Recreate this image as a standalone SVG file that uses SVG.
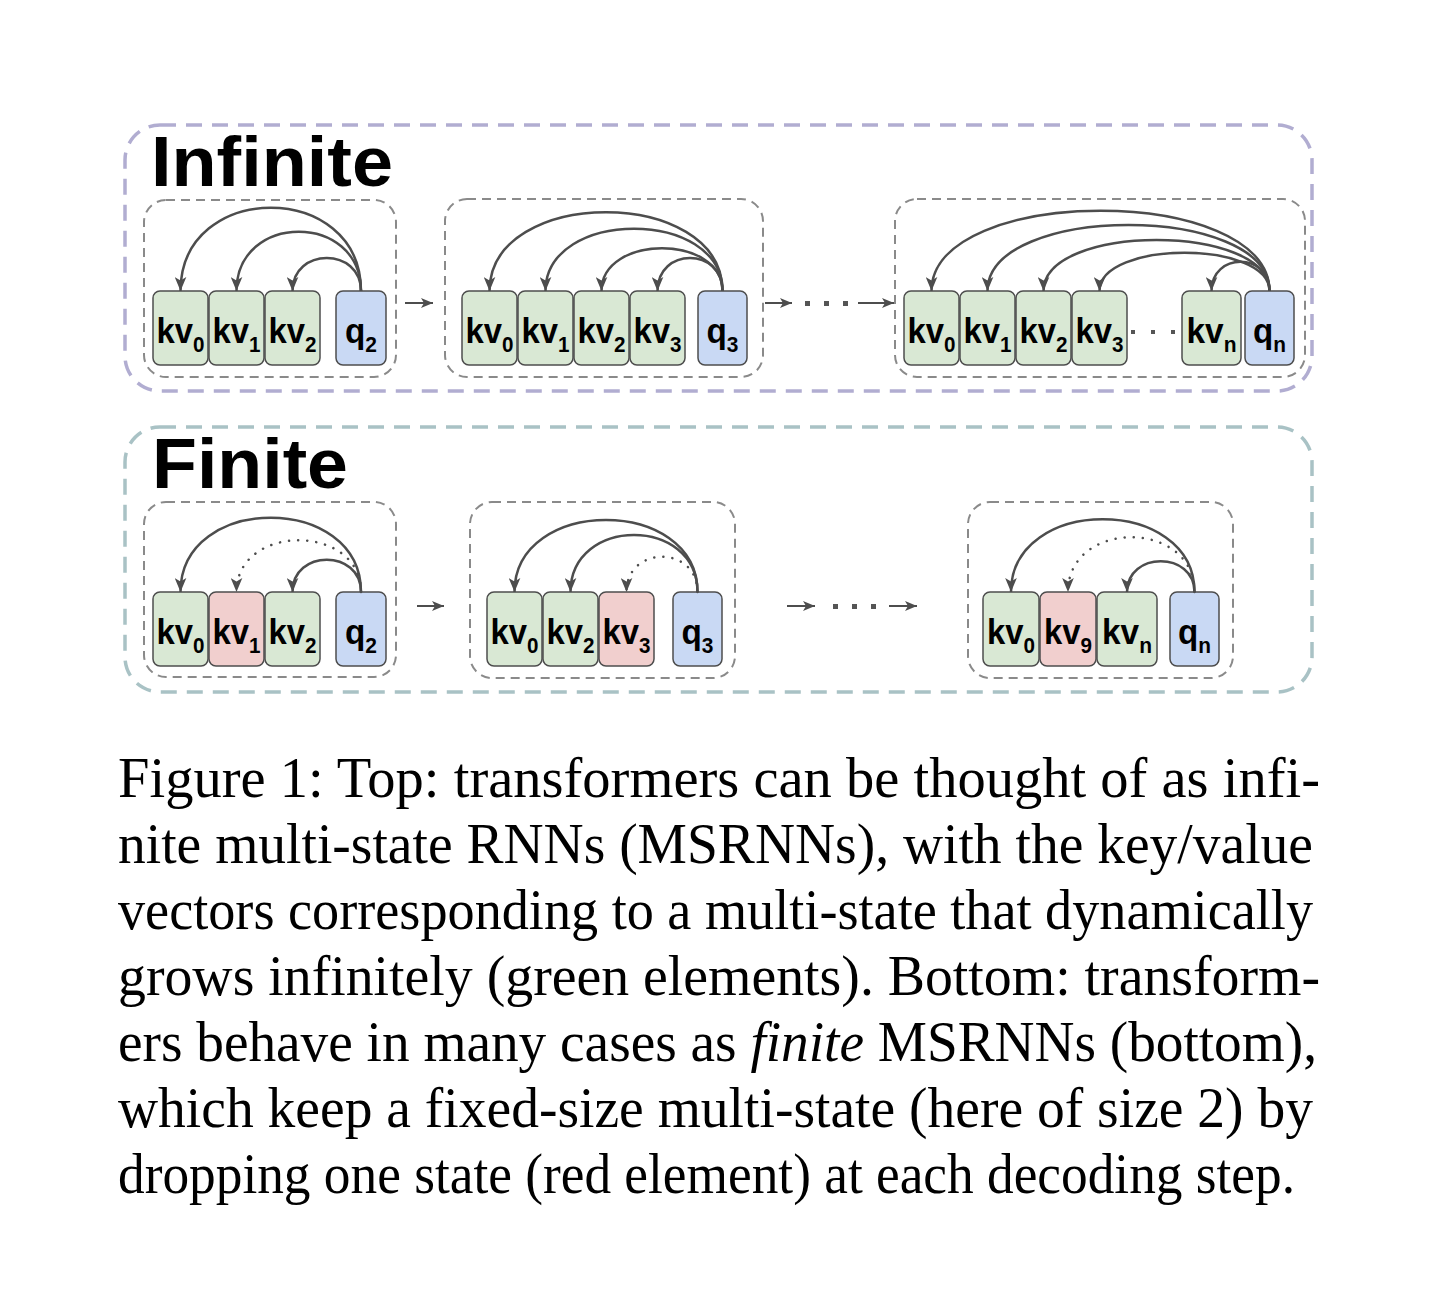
<svg xmlns="http://www.w3.org/2000/svg" width="1456" height="1315" viewBox="0 0 1456 1315">
<style>
.outerI{fill:none;stroke:#b1add1;stroke-width:3.5;stroke-dasharray:16 10}
.outerF{fill:none;stroke:#a9c2c5;stroke-width:3.5;stroke-dasharray:16 10}
.inner{fill:none;stroke:#8a8a8a;stroke-width:2;stroke-dasharray:9 6}
.title{font-family:"Liberation Sans",Arial,sans-serif;font-weight:bold;font-size:71px;fill:#000}
.g{fill:#d9e8d4;stroke:#4d4d4d;stroke-width:1.5}
.r{fill:#f1cfce;stroke:#4d4d4d;stroke-width:1.5}
.b{fill:#c9d9f4;stroke:#4d4d4d;stroke-width:1.5}
.lbl{font-family:"Liberation Sans",Arial,sans-serif;font-weight:bold;font-size:35px;fill:#000;text-anchor:middle}
.sub{font-size:22px}
.arc{fill:none;stroke:#4d4d4d;stroke-width:2.5;marker-end:url(#ah)}
.dot{fill:none;stroke:#4d4d4d;stroke-width:2.5;stroke-dasharray:0.1 9;stroke-linecap:round;marker-end:url(#ah)}
.harr{fill:none;stroke:#4d4d4d;stroke-width:2;marker-end:url(#ah2)}
.sq{fill:#555}
.cap{font-family:"Liberation Serif","Times New Roman",serif;font-size:56px;fill:#000}
</style>
<defs>
<marker id="ah" markerUnits="userSpaceOnUse" viewBox="0 0 12 10" markerWidth="14" markerHeight="12" refX="12" refY="5" orient="auto">
<path d="M0,0 L12,5 L0,10 L3,5 z" fill="#4d4d4d"/>
</marker>
<marker id="ah2" markerUnits="userSpaceOnUse" viewBox="0 0 12 10" markerWidth="13" markerHeight="10" refX="12" refY="5" orient="auto">
<path d="M0,0 L12,5 L0,10 L3,5 z" fill="#4d4d4d"/>
</marker>
</defs>
<rect id="frame-infinite" class="outerI" x="125" y="125" width="1187" height="266" rx="35"/>
<rect id="frame-finite" class="outerF" x="125" y="427" width="1187" height="265" rx="35"/>
<text id="title-infinite" class="title" x="151" y="186" textLength="242" lengthAdjust="spacingAndGlyphs">Infinite</text>
<text id="title-finite" class="title" x="152" y="488" textLength="196" lengthAdjust="spacingAndGlyphs">Finite</text>
<g id="groups">
<rect id="inf-step2" class="inner" x="144" y="200" width="252" height="177" rx="22"/>
<rect id="inf-step3" class="inner" x="445" y="199" width="318" height="178" rx="22"/>
<rect id="inf-stepn" class="inner" x="895" y="199" width="410" height="178" rx="22"/>
<rect id="fin-step2" class="inner" x="144" y="502" width="252" height="175" rx="22"/>
<rect id="fin-step3" class="inner" x="470" y="502" width="265" height="176" rx="22"/>
<rect id="fin-stepn" class="inner" x="968" y="502" width="265" height="176" rx="22"/>
</g>
<g id="i1-kv0"><rect class="g" x="153" y="291" width="55" height="74" rx="7"/><text class="lbl" x="180.5" y="343" textLength="48" lengthAdjust="spacingAndGlyphs">kv<tspan class="sub" dy="9">0</tspan></text></g>
<g id="i1-kv1"><rect class="g" x="209" y="291" width="55" height="74" rx="7"/><text class="lbl" x="236.5" y="343" textLength="48" lengthAdjust="spacingAndGlyphs">kv<tspan class="sub" dy="9">1</tspan></text></g>
<g id="i1-kv2"><rect class="g" x="265" y="291" width="55" height="74" rx="7"/><text class="lbl" x="292.5" y="343" textLength="48" lengthAdjust="spacingAndGlyphs">kv<tspan class="sub" dy="9">2</tspan></text></g>
<g id="i1-q2"><rect class="b" x="336" y="291" width="50" height="74" rx="7"/><text class="lbl" x="361" y="343" textLength="32" lengthAdjust="spacingAndGlyphs">q<tspan class="sub" dy="9">2</tspan></text></g>
<g id="i2-kv0"><rect class="g" x="462" y="291" width="55" height="74" rx="7"/><text class="lbl" x="489.5" y="343" textLength="48" lengthAdjust="spacingAndGlyphs">kv<tspan class="sub" dy="9">0</tspan></text></g>
<g id="i2-kv1"><rect class="g" x="518" y="291" width="55" height="74" rx="7"/><text class="lbl" x="545.5" y="343" textLength="48" lengthAdjust="spacingAndGlyphs">kv<tspan class="sub" dy="9">1</tspan></text></g>
<g id="i2-kv2"><rect class="g" x="574" y="291" width="55" height="74" rx="7"/><text class="lbl" x="601.5" y="343" textLength="48" lengthAdjust="spacingAndGlyphs">kv<tspan class="sub" dy="9">2</tspan></text></g>
<g id="i2-kv3"><rect class="g" x="630" y="291" width="55" height="74" rx="7"/><text class="lbl" x="657.5" y="343" textLength="48" lengthAdjust="spacingAndGlyphs">kv<tspan class="sub" dy="9">3</tspan></text></g>
<g id="i2-q3"><rect class="b" x="698" y="291" width="49" height="74" rx="7"/><text class="lbl" x="722.5" y="343" textLength="32" lengthAdjust="spacingAndGlyphs">q<tspan class="sub" dy="9">3</tspan></text></g>
<g id="i3-kv0"><rect class="g" x="904" y="291" width="55" height="74" rx="7"/><text class="lbl" x="931.5" y="343" textLength="48" lengthAdjust="spacingAndGlyphs">kv<tspan class="sub" dy="9">0</tspan></text></g>
<g id="i3-kv1"><rect class="g" x="960" y="291" width="55" height="74" rx="7"/><text class="lbl" x="987.5" y="343" textLength="48" lengthAdjust="spacingAndGlyphs">kv<tspan class="sub" dy="9">1</tspan></text></g>
<g id="i3-kv2"><rect class="g" x="1016" y="291" width="55" height="74" rx="7"/><text class="lbl" x="1043.5" y="343" textLength="48" lengthAdjust="spacingAndGlyphs">kv<tspan class="sub" dy="9">2</tspan></text></g>
<g id="i3-kv3"><rect class="g" x="1072" y="291" width="55" height="74" rx="7"/><text class="lbl" x="1099.5" y="343" textLength="48" lengthAdjust="spacingAndGlyphs">kv<tspan class="sub" dy="9">3</tspan></text></g>
<g id="i3-ellipsis"><rect class="sq" x="1131" y="330" width="4" height="4"/><rect class="sq" x="1151" y="330" width="4" height="4"/><rect class="sq" x="1171" y="330" width="4" height="4"/></g>
<g id="i3-kvn"><rect class="g" x="1182" y="291" width="59" height="74" rx="7"/><text class="lbl" x="1211.5" y="343" textLength="50" lengthAdjust="spacingAndGlyphs">kv<tspan class="sub" dy="9">n</tspan></text></g>
<g id="i3-qn"><rect class="b" x="1245" y="291" width="49" height="74" rx="7"/><text class="lbl" x="1269.5" y="343" textLength="33" lengthAdjust="spacingAndGlyphs">q<tspan class="sub" dy="9">n</tspan></text></g>
<g id="f1-kv0"><rect class="g" x="153" y="592" width="55" height="74" rx="7"/><text class="lbl" x="180.5" y="644" textLength="48" lengthAdjust="spacingAndGlyphs">kv<tspan class="sub" dy="9">0</tspan></text></g>
<g id="f1-kv1"><rect class="r" x="209" y="592" width="55" height="74" rx="7"/><text class="lbl" x="236.5" y="644" textLength="48" lengthAdjust="spacingAndGlyphs">kv<tspan class="sub" dy="9">1</tspan></text></g>
<g id="f1-kv2"><rect class="g" x="265" y="592" width="55" height="74" rx="7"/><text class="lbl" x="292.5" y="644" textLength="48" lengthAdjust="spacingAndGlyphs">kv<tspan class="sub" dy="9">2</tspan></text></g>
<g id="f1-q2"><rect class="b" x="336" y="592" width="50" height="74" rx="7"/><text class="lbl" x="361" y="644" textLength="32" lengthAdjust="spacingAndGlyphs">q<tspan class="sub" dy="9">2</tspan></text></g>
<g id="f2-kv0"><rect class="g" x="487" y="592" width="55" height="74" rx="7"/><text class="lbl" x="514.5" y="644" textLength="48" lengthAdjust="spacingAndGlyphs">kv<tspan class="sub" dy="9">0</tspan></text></g>
<g id="f2-kv2"><rect class="g" x="543" y="592" width="55" height="74" rx="7"/><text class="lbl" x="570.5" y="644" textLength="48" lengthAdjust="spacingAndGlyphs">kv<tspan class="sub" dy="9">2</tspan></text></g>
<g id="f2-kv3"><rect class="r" x="599" y="592" width="55" height="74" rx="7"/><text class="lbl" x="626.5" y="644" textLength="48" lengthAdjust="spacingAndGlyphs">kv<tspan class="sub" dy="9">3</tspan></text></g>
<g id="f2-q3"><rect class="b" x="673" y="592" width="49" height="74" rx="7"/><text class="lbl" x="697.5" y="644" textLength="32" lengthAdjust="spacingAndGlyphs">q<tspan class="sub" dy="9">3</tspan></text></g>
<g id="f3-kv0"><rect class="g" x="983" y="592" width="56" height="74" rx="7"/><text class="lbl" x="1011" y="644" textLength="48" lengthAdjust="spacingAndGlyphs">kv<tspan class="sub" dy="9">0</tspan></text></g>
<g id="f3-kv9"><rect class="r" x="1040" y="592" width="56" height="74" rx="7"/><text class="lbl" x="1068" y="644" textLength="48" lengthAdjust="spacingAndGlyphs">kv<tspan class="sub" dy="9">9</tspan></text></g>
<g id="f3-kvn"><rect class="g" x="1097" y="592" width="60" height="74" rx="7"/><text class="lbl" x="1127" y="644" textLength="50" lengthAdjust="spacingAndGlyphs">kv<tspan class="sub" dy="9">n</tspan></text></g>
<g id="f3-qn"><rect class="b" x="1170" y="592" width="49" height="74" rx="7"/><text class="lbl" x="1194.5" y="644" textLength="33" lengthAdjust="spacingAndGlyphs">q<tspan class="sub" dy="9">n</tspan></text></g>
<g id="connectors">
<path class="arc" d="M361,291 C361,180 180.5,180 180.5,291"/>
<path class="arc" d="M361,291 C361,212 236.5,212 236.5,291"/>
<path class="arc" d="M361,291 C361,247 292.5,247 292.5,291"/>
<path class="arc" d="M722.5,291 C722.5,186 489.5,186 489.5,291"/>
<path class="arc" d="M722.5,291 C722.5,208 545.5,208 545.5,291"/>
<path class="arc" d="M722.5,291 C722.5,234 601.5,234 601.5,291"/>
<path class="arc" d="M722.5,291 C722.5,247 657.5,247 657.5,291"/>
<path class="arc" d="M1269.5,291 C1269.5,184 931.5,184 931.5,291"/>
<path class="arc" d="M1269.5,291 C1269.5,203 987.5,203 987.5,291"/>
<path class="arc" d="M1269.5,291 C1269.5,223 1043.5,223 1043.5,291"/>
<path class="arc" d="M1269.5,291 C1269.5,240 1099.5,240 1099.5,291"/>
<path class="arc" d="M1269.5,291 C1269.5,252 1211.5,252 1211.5,291"/>
<path class="arc" d="M361,592 C361,493 180.5,493 180.5,592"/>
<path class="dot" d="M361,592 C361,523 236.5,523 236.5,592"/>
<path class="arc" d="M361,592 C361,549 292.5,549 292.5,592"/>
<path class="arc" d="M697.5,592 C697.5,496 514.5,496 514.5,592"/>
<path class="arc" d="M697.5,592 C697.5,516 570.5,516 570.5,592"/>
<path class="dot" d="M697.5,592 C697.5,545 626.5,545 626.5,592"/>
<path class="arc" d="M1194.5,592 C1194.5,495 1011,495 1011,592"/>
<path class="dot" d="M1194.5,592 C1194.5,519 1068,519 1068,592"/>
<path class="arc" d="M1194.5,592 C1194.5,551 1127,551 1127,592"/>
<line class="harr" x1="405" y1="303" x2="433" y2="303"/>
<line class="harr" x1="765" y1="303" x2="792" y2="303"/>
<rect class="sq" x="805" y="301" width="5" height="5"/><rect class="sq" x="824" y="301" width="5" height="5"/><rect class="sq" x="843" y="301" width="5" height="5"/>
<line class="harr" x1="858" y1="303" x2="894" y2="303"/>
<line class="harr" x1="417" y1="606" x2="444" y2="606"/>
<line class="harr" x1="787" y1="606" x2="815" y2="606"/>
<rect class="sq" x="833" y="604" width="5" height="5"/><rect class="sq" x="852" y="604" width="5" height="5"/><rect class="sq" x="871" y="604" width="5" height="5"/>
<line class="harr" x1="889" y1="606" x2="917" y2="606"/>
</g>
<g id="caption" class="cap">
<text x="118" y="797" textLength="1202" lengthAdjust="spacingAndGlyphs">Figure 1: Top: transformers can be thought of as infi-</text>
<text x="118" y="863" textLength="1195" lengthAdjust="spacingAndGlyphs">nite multi-state RNNs (MSRNNs), with the key/value</text>
<text x="118" y="929" textLength="1195" lengthAdjust="spacingAndGlyphs">vectors corresponding to a multi-state that dynamically</text>
<text x="118" y="995" textLength="1202" lengthAdjust="spacingAndGlyphs">grows infinitely (green elements). Bottom: transform-</text>
<text x="118" y="1061" textLength="1199" lengthAdjust="spacingAndGlyphs">ers behave in many cases as <tspan font-style="italic">finite</tspan> MSRNNs (bottom),</text>
<text x="118" y="1127" textLength="1195" lengthAdjust="spacingAndGlyphs">which keep a fixed-size multi-state (here of size 2) by</text>
<text x="118" y="1193" textLength="1177" lengthAdjust="spacingAndGlyphs">dropping one state (red element) at each decoding step.</text>
</g>
</svg>
